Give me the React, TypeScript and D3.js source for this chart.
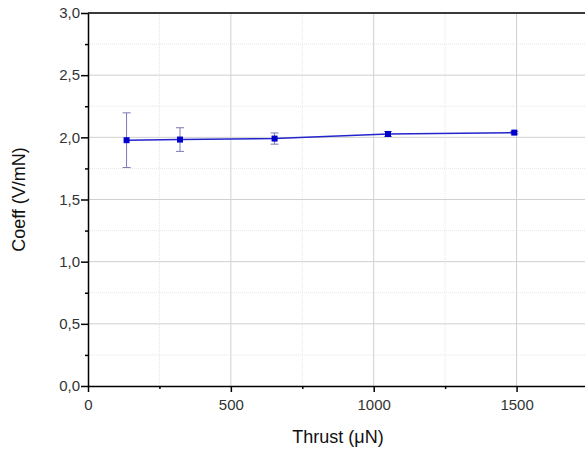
import React, { useEffect, useRef } from "react";
import * as d3 from "d3";

const thrust = [135, 322, 653, 1050, 1492];
const coeff = [1.977, 1.982, 1.99, 2.027, 2.038];
const coeffErr = [0.22, 0.095, 0.045, 0.02, 0.01];
const xTicks = [0, 500, 1000, 1500];
const xMinor = [250, 750, 1250, 1750];
const yTicks = [0, 0.5, 1, 1.5, 2, 2.5, 3];
const yMinor = [0.25, 0.75, 1.25, 1.75, 2.25, 2.75];

const fmtY = (v: number) => d3.format(".1f")(v).replace(".", ",");

const App = () => {
  const ref = useRef<SVGSVGElement>(null);

  useEffect(() => {
    const svg = d3.select(ref.current);
    svg.selectAll("*").remove();

    const width = 585;
    const height = 451;
    const margin = { top: 13, right: -3, bottom: 65, left: 88 };

    svg.attr("width", width).attr("height", height);

    const x = d3.scaleLinear().domain([0, 1750]).range([margin.left, width - margin.right]);
    const y = d3.scaleLinear().domain([0, 3]).range([height - margin.bottom, margin.top]);

    const x0 = margin.left;
    const x1 = width - margin.right;
    const y0 = height - margin.bottom;
    const y1 = margin.top;

    const font = "Liberation Sans, Arial, sans-serif";

    // grille secondaire
    svg.append("g")
      .selectAll("line")
      .data(yMinor)
      .enter()
      .append("line")
      .attr("x1", x0).attr("x2", x1)
      .attr("y1", d => y(d)).attr("y2", d => y(d))
      .attr("stroke", "#e6e6e6")
      .attr("stroke-dasharray", "1,1");
    svg.append("g")
      .selectAll("line")
      .data(xMinor)
      .enter()
      .append("line")
      .attr("x1", d => x(d)).attr("x2", d => x(d))
      .attr("y1", y0).attr("y2", y1)
      .attr("stroke", "#e6e6e6")
      .attr("stroke-dasharray", "1,1");

    // grille principale
    svg.append("g")
      .selectAll("line")
      .data(yTicks.slice(1))
      .enter()
      .append("line")
      .attr("x1", x0).attr("x2", x1)
      .attr("y1", d => y(d)).attr("y2", d => y(d))
      .attr("stroke", "#d0d0d0");
    svg.append("g")
      .selectAll("line")
      .data(xTicks.slice(1))
      .enter()
      .append("line")
      .attr("x1", d => x(d)).attr("x2", d => x(d))
      .attr("y1", y0).attr("y2", y1)
      .attr("stroke", "#d0d0d0");

    // axe X
    const gx = svg.append("g")
      .attr("transform", `translate(0, ${y0})`)
      .call(d3.axisBottom(x).tickValues(xTicks).tickSize(6).tickSizeOuter(0).tickFormat(d3.format("d")));
    gx.select(".domain").attr("stroke", "#000").attr("stroke-width", 1.5);
    gx.selectAll(".tick line").attr("stroke-width", 1.5);
    gx.selectAll("text").attr("font-family", font).attr("font-size", 15).attr("fill", "#333").attr("y", 13).attr("dy", "0.71em");
    svg.append("g")
      .attr("transform", `translate(0, ${y0})`)
      .call(d3.axisBottom(x).tickValues(xMinor).tickSize(3).tickSizeOuter(0).tickFormat(() => ""))
      .call(g => g.select(".domain").remove())
      .selectAll(".tick line").attr("stroke-width", 1.5);

    // axe Y
    const gy = svg.append("g")
      .attr("transform", `translate(${x0}, 0)`)
      .call(d3.axisLeft(y).tickValues(yTicks).tickSize(7).tickSizeOuter(0).tickFormat(d => fmtY(+d)));
    gy.select(".domain").attr("stroke", "#000").attr("stroke-width", 1.5);
    gy.selectAll(".tick line").attr("stroke-width", 1.5);
    gy.selectAll("text").attr("font-family", font).attr("font-size", 15).attr("fill", "#333").attr("x", -8);
    svg.append("g")
      .attr("transform", `translate(${x0}, 0)`)
      .call(d3.axisLeft(y).tickValues(yMinor).tickSize(3).tickSizeOuter(0).tickFormat(() => ""))
      .call(g => g.select(".domain").remove())
      .selectAll(".tick line").attr("stroke-width", 1.5);

    // bordure du haut
    svg.append("line")
      .attr("x1", x0).attr("x2", x1)
      .attr("y1", y1).attr("y2", y1)
      .attr("stroke", "#000")
      .attr("stroke-width", 1.5);

    const data = thrust.map((t, i) => ({ t, c: coeff[i], e: coeffErr[i] }));

    // barres d'erreur
    const eb = svg.append("g").attr("stroke", "#7a7ab8").attr("stroke-width", 1);
    data.forEach(d => {
      eb.append("line").attr("x1", x(d.t)).attr("x2", x(d.t)).attr("y1", y(d.c - d.e)).attr("y2", y(d.c + d.e));
      eb.append("line").attr("x1", x(d.t) - 4).attr("x2", x(d.t) + 4).attr("y1", y(d.c - d.e)).attr("y2", y(d.c - d.e));
      eb.append("line").attr("x1", x(d.t) - 4).attr("x2", x(d.t) + 4).attr("y1", y(d.c + d.e)).attr("y2", y(d.c + d.e));
    });

    // ligne
    const line = d3.line<{ t: number; c: number }>().x(d => x(d.t)).y(d => y(d.c));
    svg.append("path")
      .datum(data)
      .attr("d", line)
      .attr("fill", "none")
      .attr("stroke", "#2424cc")
      .attr("stroke-width", 1.5);

    // marqueurs
    svg.selectAll(".pt")
      .data(data)
      .enter()
      .append("rect")
      .attr("class", "pt")
      .attr("x", d => x(d.t) - 3)
      .attr("y", d => y(d.c) - 3)
      .attr("width", 6)
      .attr("height", 6)
      .attr("fill", "#0000cc");

    // titres des axes
    svg.append("text")
      .attr("x", (x0 + x1) / 2)
      .attr("y", 443)
      .attr("text-anchor", "middle")
      .attr("font-family", font)
      .attr("font-size", 18)
      .attr("fill", "#111")
      .text("Thrust (\u03bcN)");
    svg.append("text")
      .attr("transform", `translate(25, ${(y0 + y1) / 2}) rotate(-90)`)
      .attr("text-anchor", "middle")
      .attr("font-family", font)
      .attr("font-size", 18)
      .attr("fill", "#111")
      .text("Coeff (V/mN)");
  }, []);

  return <svg ref={ref} style={{ position: "absolute", left: 0, top: 0 }}></svg>;
};

export default App;
